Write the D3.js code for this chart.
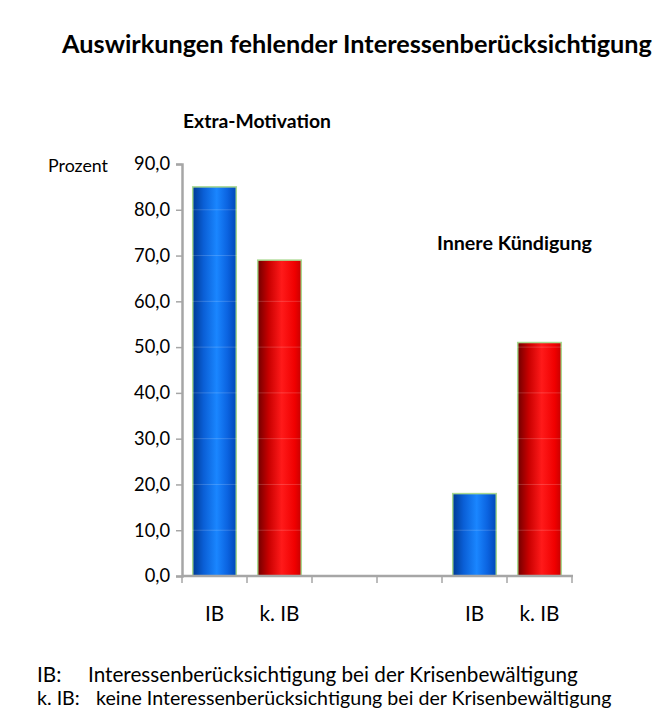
<!DOCTYPE html>
<html><head><meta charset="utf-8">
<script src="https://cdn.jsdelivr.net/npm/d3@7"></script>
<style>body{margin:0;background:#fff}svg{font-family:Lato,"Open Sans",sans-serif}</style>
</head><body>
<svg id="c" width="660" height="713"></svg>
<script>
const categories = ["IB-1","kIB-1","gap-1","gap-2","IB-2","kIB-2"];
const tickLabels = ["IB","k. IB","","","IB","k. IB"];
const values = [85, 69, null, null, 18, 51];
const seriesType = ["blue","red",null,null,"blue","red"];
const yTicks = [0,10,20,30,40,50,60,70,80,90];

const svg = d3.select("#c");
const x = d3.scaleBand().domain(categories).range([182, 572]).paddingInner(0.33).paddingOuter(0.165);
const y = d3.scaleLinear().domain([0, 90]).range([576, 164]);

function fit(sel, width){
  const n = sel.node();
  const fs = parseFloat(sel.attr("font-size"));
  const w = n.getComputedTextLength();
  if (w > 0) sel.attr("font-size", fs * width / w);
  return sel;
}

const defs = svg.append("defs");
function grad(id, stops){
  const g = defs.append("linearGradient").attr("id", id).attr("x1","0").attr("x2","1").attr("y1","0").attr("y2","0");
  stops.forEach(s=>g.append("stop").attr("offset",s[0]).attr("stop-color",s[1]));
}
grad("gblue",[[0,"#003a94"],[0.25,"#0a5fd6"],[0.55,"#1a86ff"],[0.8,"#0b63e0"],[1,"#0048b8"]]);
grad("gred",[[0,"#700000"],[0.25,"#c80000"],[0.55,"#ff1a1a"],[0.85,"#f00000"],[1,"#c80000"]]);

// titles
fit(svg.append("text").attr("x",357).attr("y",53).attr("text-anchor","middle")
  .attr("font-size",20).attr("font-weight","bold").text("Auswirkungen fehlender Interessenberücksichtigung"), 590);
fit(svg.append("text").attr("x",183).attr("y",128).attr("text-anchor","start")
  .attr("font-size",14).attr("font-weight","bold").text("Extra-Motivation"), 148);
fit(svg.append("text").attr("x",437).attr("y",250).attr("text-anchor","start")
  .attr("font-size",14).attr("font-weight","bold").text("Innere Kündigung"), 155);
fit(svg.append("text").attr("x",78).attr("y",172).attr("text-anchor","middle")
  .attr("font-size",15).text("Prozent"), 60);

// bars
const bars = categories.map((c,i)=>({c, v: values[i], t: seriesType[i]})).filter(d=>d.v!=null);
svg.append("g").selectAll("rect").data(bars).join("rect")
  .attr("x", d=>x(d.c)).attr("width", x.bandwidth())
  .attr("y", d=>y(d.v)).attr("height", d=>y(0)-y(d.v))
  .attr("fill", d=>d.t==="blue"?"url(#gblue)":"url(#gred)")
  .attr("stroke","#a8d890").attr("stroke-width",1.5);

svg.append("g").selectAll("line").data(yTicks.slice(1)).join("line")
  .attr("x1",183).attr("x2",572).attr("y1",d=>y(d)).attr("y2",d=>y(d))
  .attr("stroke","#ffffff").attr("stroke-opacity",0.18).attr("stroke-width",1);

// y axis
const yAxis = svg.append("g").attr("transform","translate(182,0)")
  .call(d3.axisLeft(y).tickValues(yTicks).tickSize(6).tickSizeOuter(6).tickFormat(d=>d3.format(".1f")(d).replace(".",",")));
yAxis.select(".domain").attr("stroke","#a6a6a6").attr("stroke-width",2.5);
yAxis.selectAll(".tick line").attr("stroke","#a6a6a6").attr("stroke-width",1.5);
yAxis.selectAll(".tick text").attr("font-size",15).attr("fill","#000").attr("x",-12).attr("font-family","Lato,'Open Sans',sans-serif");
const t90 = yAxis.selectAll(".tick text").filter(d=>d===90);
const ts = 15 * 36 / t90.node().getComputedTextLength();
yAxis.selectAll(".tick text").attr("font-size", ts);

// x axis
const xg = svg.append("g").attr("transform","translate(0,576)");
xg.append("line").attr("x1",182).attr("x2",573).attr("y1",0).attr("y2",0).attr("stroke","#a6a6a6").attr("stroke-width",2.5);
const bounds = categories.map(c=>x(c) - x.step()*x.paddingInner()/2);
bounds.push(572);
xg.selectAll("line.t").data(bounds).join("line").attr("class","t")
  .attr("x1",d=>d).attr("x2",d=>d).attr("y1",0).attr("y2",7).attr("stroke","#a6a6a6").attr("stroke-width",1.5);
const xl = xg.selectAll("text").data(categories).join("text")
  .attr("x",(c)=>x(c)+x.bandwidth()/2).attr("y",45).attr("text-anchor","middle")
  .attr("font-size",16).text((c,i)=>tickLabels[i]);
const xs = 16 * 40 / xl.filter((c,i)=>i===1).node().getComputedTextLength();
xl.attr("font-size", xs);

// footnotes
const notes = [["IB:", "Interessenberücksichtigung bei der Krisenbewältigung", 88, 490],
               ["k. IB:", "keine Interessenberücksichtigung bei der Krisenbewältigung", 96, 516]];
notes.forEach((n,i)=>{
  const t = fit(svg.append("text").attr("x",n[2]).attr("y",682+i*23).attr("font-size",15).text(n[1]), n[3]);
  svg.append("text").attr("x",37).attr("y",682+i*23).attr("font-size",parseFloat(t.attr("font-size"))).text(n[0]);
});
</script>
</body></html>
